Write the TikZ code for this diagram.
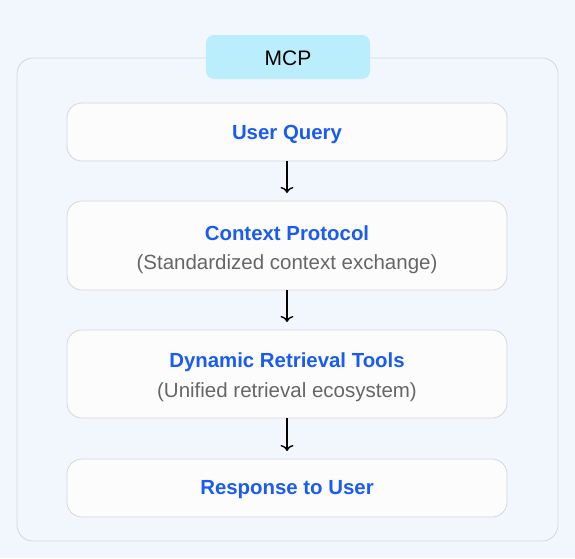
\documentclass[tikz,border=0pt]{standalone}
\usepackage{fontspec}
\setmainfont{Liberation Sans}
\usetikzlibrary{arrows.meta}
\definecolor{bgc}{HTML}{F2F7FE}
\definecolor{framec}{HTML}{D3D6DD}
\definecolor{tabc}{HTML}{BAEEFC}
\definecolor{boxc}{HTML}{FCFCFC}
\definecolor{boxb}{HTML}{D6D6DA}
\definecolor{titc}{HTML}{1A5CF0}
\definecolor{subc}{HTML}{666666}
\tikzset{
  x=1pt,y=-1pt,
  stepbox/.style={draw=boxb, fill=boxc, rounded corners=15pt, line width=0.8pt},
  ttl/.style={text=titc, font=\fontsize{20.4}{22}\selectfont\bfseries},
  sub/.style={text=subc, font=\fontsize{20.5}{22}\selectfont},
  flow/.style={-{To[length=6pt,width=13pt]}, line width=1.4pt, black}
}
\begin{document}
\begin{tikzpicture}
\fill[bgc] (0,0) rectangle (575,558);
\useasboundingbox (0,0) rectangle (575,558);
\draw[draw=framec, line width=0.8pt, rounded corners=16pt] (17,58) rectangle (558,541);
\node[fill=tabc, rounded corners=8pt, minimum width=164pt, minimum height=44pt, inner sep=0pt] (mcp) at (288,57) {};
\node[font=\fontsize{21}{22}\selectfont] (mcpt) at (288,58.5) {MCP};
\draw[stepbox] (67,103) rectangle (507,161);
\node[ttl] (t1) at (287,134) {User Query};
\draw[stepbox] (67,201) rectangle (507,290);
\node[ttl] (t2) at (287,233) {Context Protocol};
\node[sub] (s2) at (287,264) {(Standardized context exchange)};
\draw[stepbox] (67,330) rectangle (507,418);
\node[ttl] (t3) at (287,362) {Dynamic Retrieval Tools};
\node[sub] (s3) at (287,392) {(Unified retrieval ecosystem)};
\draw[stepbox] (67,459) rectangle (507,517);
\node[ttl] (t4) at (287,490) {Response to User};
\coordinate (a1s) at (287,161); \coordinate (a1e) at (287,193);
\coordinate (a2s) at (287,290); \coordinate (a2e) at (287,322);
\coordinate (a3s) at (287,418); \coordinate (a3e) at (287,451);
\draw[flow] (a1s) -- (a1e);
\draw[flow] (a2s) -- (a2e);
\draw[flow] (a3s) -- (a3e);
\end{tikzpicture}
\end{document}
